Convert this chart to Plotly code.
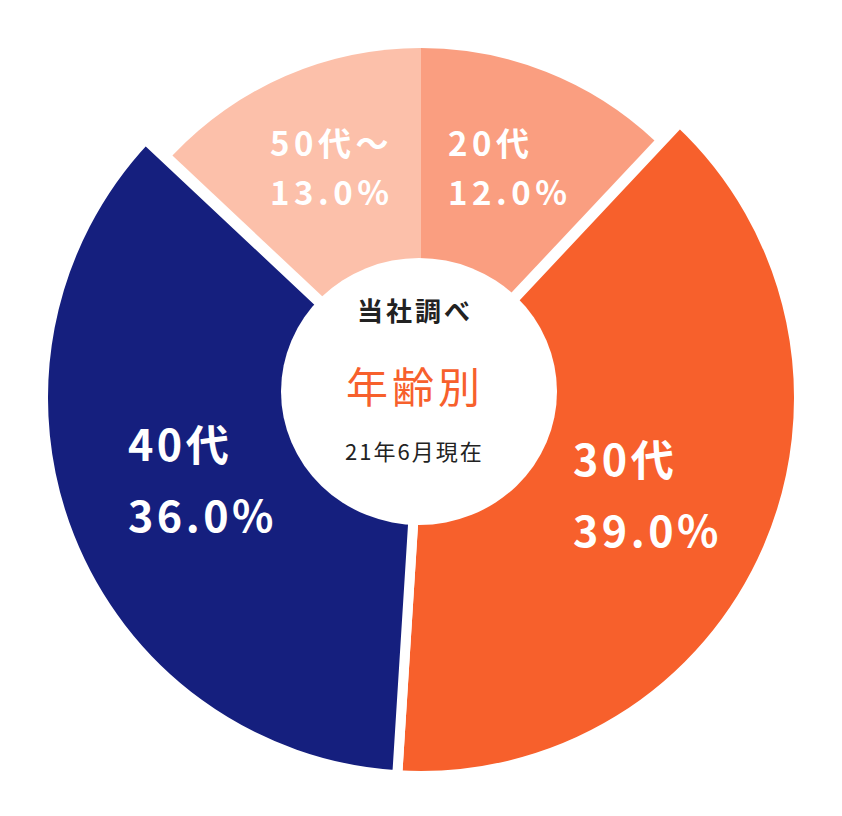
import plotly.graph_objects as go

# ---- data ----
categories = ["20代", "30代", "40代", "50代～"]
shares = [12.0, 39.0, 36.0, 13.0]
slice_colors = ["#FA9E80", "#F7602C", "#151F7E", "#FCC0AA"]
title_top = "当社調べ"
title_main = "年齢別"
title_sub = "21年6月現在"

OFF = 8                     # default body margin of the html page
W, H = 842 - 2 * OFF, 816 - 2 * OFF
SMALL_C, R_SMALL = (421, 389), 341
BIG_C, R_BIG = (421, 398), 378
HOLE_BOX = (281, 258, 557, 525)   # left, top, right, bottom (screen px)
big_group = {"30代", "40代"}

def px(sx):
    return (sx - OFF) / W

def py(sy):
    return 1 - (sy - OFF) / H

def dom(c, r):
    cx, cy = c
    return dict(x=[px(cx - r), px(cx + r)], y=[py(cy + r), py(cy - r)])

clear = "rgba(0,0,0,0)"
small_cols = [c if k not in big_group else clear for k, c in zip(categories, slice_colors)]
big_cols = [c if k in big_group else clear for k, c in zip(categories, slice_colors)]
big_lw = [10 if k in big_group else 0 for k in categories]

fig = go.Figure()
fig.add_trace(go.Pie(
    labels=categories, values=shares, sort=False, direction="clockwise", rotation=0,
    hole=0, domain=dom(SMALL_C, R_SMALL), textinfo="none", hoverinfo="skip",
    marker=dict(colors=small_cols, line=dict(width=0)), showlegend=False))
fig.add_trace(go.Pie(
    labels=categories, values=shares, sort=False, direction="clockwise", rotation=0,
    hole=0, domain=dom(BIG_C, R_BIG), textinfo="none", hoverinfo="skip",
    marker=dict(colors=big_cols, line=dict(color="white", width=big_lw)), showlegend=False))

FONT = "Noto Sans CJK JP"

def sp(t, s):
    return f'<span style="letter-spacing:{s}px">{t}</span>'

# label positions (screen px: left edge, middle of line 1, middle of line 2, size, spacing)
label_pos = {
    "20代": (446, 142, 191, 33, 4.5),
    "30代": (571, 457, 528, 43, 3.5),
    "40代": (126, 442, 513, 43, 3.5),
    "50代～": (268, 142, 191, 33, 4.5),
}
ann = []
for cat, val in zip(categories, shares):
    x, y1, y2, fs, ls = label_pos[cat]
    for txt, yy in ((cat, y1), (f"{val:.1f}%", y2)):
        ann.append(dict(x=px(x), y=py(yy), xref="paper", yref="paper",
                        xanchor="left", yanchor="middle", showarrow=False,
                        text=f"<b>{sp(txt, ls)}</b>",
                        font=dict(family=FONT, size=fs, color="white")))

ann.append(dict(x=px(415), y=py(310), xref="paper", yref="paper", showarrow=False,
                xanchor="center", yanchor="middle",
                text=f"<b>{sp(title_top, 3)}</b>",
                font=dict(family=FONT, size=26, color="#222222")))
ann.append(dict(x=px(415), y=py(384), xref="paper", yref="paper", showarrow=False,
                xanchor="center", yanchor="middle",
                text=sp(title_main, 4),
                font=dict(family=FONT, size=42, color="#F7602C")))
ann.append(dict(x=px(414), y=py(450), xref="paper", yref="paper", showarrow=False,
                xanchor="center", yanchor="middle",
                text=sp(title_sub, 2),
                font=dict(family=FONT, size=22, color="#222222")))

l, t, r, b = HOLE_BOX
fig.add_shape(type="circle", xref="paper", yref="paper", layer="above",
              x0=px(l), x1=px(r), y0=py(b), y1=py(t),
              fillcolor="white", line=dict(width=0))

fig.update_layout(width=W, height=H, margin=dict(l=0, r=0, t=0, b=0),
                  paper_bgcolor="white", plot_bgcolor="white", annotations=ann)

fig.write_html("out.html")
